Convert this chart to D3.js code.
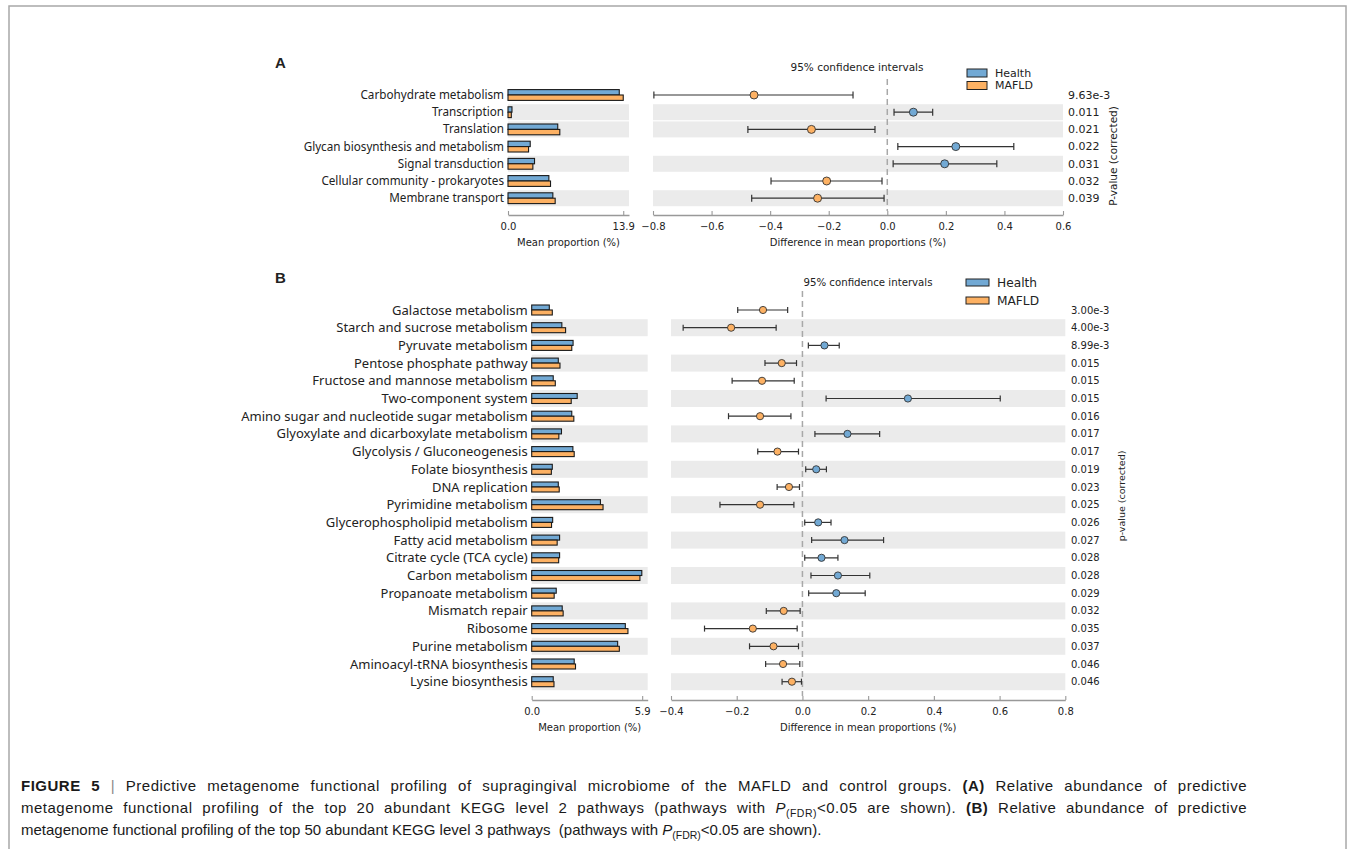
<!DOCTYPE html>
<html>
<head>
<meta charset="utf-8">
<script src="https://cdn.jsdelivr.net/npm/d3@7"></script>
<style>
  body { margin: 0; background: #fff; }
  svg text { font-family: "DejaVu Sans", sans-serif; fill: #222; }
  svg text.lab { font-family: "Noto Sans", "Open Sans", sans-serif; }
  svg text.cap { font-family: "Liberation Sans", Arial, sans-serif; font-size: 15px; fill: #1a1a1a; }
</style>
</head>
<body>
<svg id="fig" width="1355" height="849"></svg>
<script>
console.log('figure 5');

// ---- panel A: KEGG level 2 ----
const pathwaysA = ['Carbohydrate metabolism', 'Transcription', 'Translation',
  'Glycan biosynthesis and metabolism', 'Signal transduction',
  'Cellular community - prokaryotes', 'Membrane transport'];
const healthA = [13.42, 0.48, 6.0, 2.68, 3.2, 4.93, 5.41];
const mafldA  = [13.9, 0.40, 6.25, 2.48, 3.0, 5.13, 5.69];
const diffA = [-0.455, 0.089, -0.259, 0.234, 0.196, -0.207, -0.238];
const lowA  = [-0.797, 0.023, -0.476, 0.036, 0.020, -0.397, -0.463];
const highA = [-0.117, 0.155, -0.042, 0.432, 0.374, -0.018, -0.011];
const pvalA = ['9.63e-3', '0.011', '0.021', '0.022', '0.031', '0.032', '0.039'];
const shadeA = [0, 1, 1, 0, 1, 0, 1];
const meanTicksA = [0, 13.9];
const diffTicksA = [-0.8, -0.6, -0.4, -0.2, 0.0, 0.2, 0.4, 0.6];

// ---- panel B: KEGG level 3 ----
const pathwaysB = ['Galactose metabolism', 'Starch and sucrose metabolism',
  'Pyruvate metabolism', 'Pentose phosphate pathway',
  'Fructose and mannose metabolism', 'Two-component system',
  'Amino sugar and nucleotide sugar metabolism',
  'Glyoxylate and dicarboxylate metabolism', 'Glycolysis / Gluconeogenesis',
  'Folate biosynthesis', 'DNA replication', 'Pyrimidine metabolism',
  'Glycerophospholipid metabolism', 'Fatty acid metabolism',
  'Citrate cycle (TCA cycle)', 'Carbon metabolism', 'Propanoate metabolism',
  'Mismatch repair', 'Ribosome', 'Purine metabolism',
  'Aminoacyl-tRNA biosynthesis', 'Lysine biosynthesis'];
const healthB = [0.94, 1.61, 2.21, 1.42, 1.15, 2.43, 2.14, 1.59, 2.20, 1.10, 1.42,
  3.67, 1.12, 1.49, 1.49, 5.88, 1.31, 1.63, 5.00, 4.59, 2.27, 1.15];
const mafldB = [1.10, 1.81, 2.14, 1.51, 1.26, 2.11, 2.25, 1.45, 2.27, 1.05, 1.47,
  3.81, 1.06, 1.36, 1.44, 5.78, 1.20, 1.68, 5.14, 4.68, 2.34, 1.19];
const diffB = [-0.120, -0.217, 0.067, -0.063, -0.123, 0.321, -0.129, 0.137, -0.076,
  0.042, -0.041, -0.129, 0.048, 0.128, 0.058, 0.108, 0.103, -0.057, -0.151, -0.088,
  -0.059, -0.032];
const lowB = [-0.197, -0.363, 0.018, -0.114, -0.214, 0.072, -0.225, 0.038, -0.136,
  0.010, -0.077, -0.251, 0.007, 0.028, 0.007, 0.026, 0.019, -0.110, -0.298, -0.161,
  -0.112, -0.062];
const highB = [-0.045, -0.080, 0.112, -0.018, -0.025, 0.602, -0.035, 0.235, -0.012,
  0.073, -0.009, -0.026, 0.087, 0.247, 0.108, 0.205, 0.191, -0.007, -0.016, -0.012,
  -0.008, -0.003];
const pvalB = ['3.00e-3', '4.00e-3', '8.99e-3', '0.015', '0.015', '0.015', '0.016',
  '0.017', '0.017', '0.019', '0.023', '0.025', '0.026', '0.027', '0.028', '0.028',
  '0.029', '0.032', '0.035', '0.037', '0.046', '0.046'];
const shadeB = pathwaysB.map((d, i) => i % 2);
const meanTicksB = [0, 5.9];
const diffTicksB = [-0.4, -0.2, 0.0, 0.2, 0.4, 0.6, 0.8];

const groups = ['Health', 'MAFLD'];
const colors = {Health: '#72a9d4', MAFLD: '#fdb163'};

const svg = d3.select('#fig');

// frame round the figure
svg.append('rect')
  .attr('x', 9).attr('y', 6).attr('width', 1337).attr('height', 900)
  .attr('fill', 'none').attr('stroke', '#a8a8a8').attr('stroke-width', 1.5);

function drawPanel(o) {
  const g = svg.append('g');
  const rowY = i => o.y0 + i * o.pitch;

  const xMean = d3.scaleLinear().domain([0, d3.max(o.meanTicks) * 1.05]).range(o.meanRange);
  const xDiff = d3.scaleLinear().domain(d3.extent(o.diffTicks)).range(o.diffRange);

  // letter
  g.append('text').text(o.letter)
    .attr('x', o.letterPos[0]).attr('y', o.letterPos[1])
    .style('font-family', '"Liberation Sans", Arial, sans-serif')
    .style('font-weight', 'bold').style('font-size', '15px');

  // shaded rows
  o.names.forEach((d, i) => {
    if (!o.shade[i]) return;
    [o.meanRange, o.diffRange].forEach(r => {
      g.append('rect')
        .attr('x', r[0]).attr('width', r[1] - r[0])
        .attr('y', rowY(i) - o.bandH / 2).attr('height', o.bandH)
        .attr('fill', '#ebebeb');
    });
  });

  // labels + bars
  o.names.forEach((d, i) => {
    const y = rowY(i);
    g.append('text').attr('class', 'lab')
      .text(d)
      .attr('x', o.meanRange[0] - 4).attr('y', y)
      .attr('dy', '0.35em')
      .attr('text-anchor', 'end')
      .style('font-size', o.labelSize + 'px');

    [o.health[i], o.mafld[i]].forEach((v, k) => {
      g.append('rect')
        .attr('x', xMean(0))
        .attr('y', k === 0 ? y - o.barH : y)
        .attr('width', xMean(v) - xMean(0))
        .attr('height', o.barH)
        .attr('fill', colors[groups[k]])
        .attr('stroke', '#1a1a1a').attr('stroke-width', 1.1);
    });
  });

  // zero line
  g.append('line')
    .attr('x1', xDiff(0)).attr('x2', xDiff(0))
    .attr('y1', o.zeroTop).attr('y2', o.axisY - 4)
    .attr('stroke', '#a8a8a8').attr('stroke-width', 1.5)
    .attr('stroke-dasharray', '6,4');

  // confidence intervals
  o.names.forEach((d, i) => {
    const y = rowY(i);
    const c = o.diff[i] > 0 ? colors.Health : colors.MAFLD;
    const eb = g.append('g').attr('stroke', '#333').attr('stroke-width', 1.2);
    eb.append('line').attr('x1', xDiff(o.low[i])).attr('x2', xDiff(o.high[i]))
      .attr('y1', y).attr('y2', y);
    [o.low[i], o.high[i]].forEach(v => {
      eb.append('line').attr('x1', xDiff(v)).attr('x2', xDiff(v))
        .attr('y1', y - o.capH / 2).attr('y2', y + o.capH / 2);
    });
    g.append('circle')
      .attr('cx', xDiff(o.diff[i])).attr('cy', y).attr('r', o.dotR)
      .attr('fill', c).attr('stroke', '#333').attr('stroke-width', 0.9);

    g.append('text').text(o.pvals[i])
      .attr('x', o.pX).attr('y', y).attr('dy', '0.35em')
      .style('font-size', o.pSize + 'px');
  });

  // axes
  const axMean = d3.axisBottom(xMean).tickValues(o.meanTicks)
    .tickFormat(d3.format('.1f')).tickSizeInner(-4).tickSizeOuter(0).tickPadding(8);
  const axDiff = d3.axisBottom(xDiff).tickValues(o.diffTicks)
    .tickFormat(d3.format('.1f')).tickSizeInner(-4).tickSizeOuter(0).tickPadding(8);
  [axMean, axDiff].forEach(ax => {
    const a = g.append('g').attr('transform', `translate(0,${o.axisY})`).call(ax);
    a.select('.domain').attr('stroke', '#999').attr('stroke-width', 1.3);
    a.selectAll('.tick line').attr('stroke', '#999').attr('stroke-width', 1.1);
    a.selectAll('.tick text').attr('fill', '#222')
      .style('font-family', '"DejaVu Sans", sans-serif').style('font-size', '10px');
  });

  g.append('text').text('Mean proportion (%)')
    .attr('x', d3.mean(o.meanRange)).attr('y', o.axisY + 31)
    .attr('text-anchor', 'middle').style('font-size', '10px');
  g.append('text').text('Difference in mean proportions (%)')
    .attr('x', d3.mean(o.diffRange)).attr('y', o.axisY + 31)
    .attr('text-anchor', 'middle').style('font-size', '10px');

  g.append('text').text('95% confidence intervals')
    .attr('x', o.ciPos[0]).attr('y', o.ciPos[1])
    .attr('text-anchor', 'middle').style('font-size', o.ciSize + 'px');

  // legend
  groups.forEach((k, j) => {
    const ly = o.legY + j * o.legStep;
    g.append('rect')
      .attr('x', o.legX).attr('y', ly - o.legH / 2)
      .attr('width', o.legW).attr('height', o.legH)
      .attr('fill', colors[k]).attr('stroke', '#222').attr('stroke-width', 1);
    g.append('text').text(k)
      .attr('x', o.legX + o.legW + 8).attr('y', ly).attr('dy', '0.35em')
      .style('font-size', o.legSize + 'px');
  });

  // rotated p-value title
  g.append('text').text(o.pTitle)
    .attr('transform', `translate(${o.pTitlePos[0]},${o.pTitlePos[1]}) rotate(-90)`)
    .attr('text-anchor', 'middle').style('font-size', o.pTitleSize + 'px');
}

drawPanel({
  letter: 'A', letterPos: [275, 68],
  names: pathwaysA, health: healthA, mafld: mafldA,
  diff: diffA, low: lowA, high: highA, pvals: pvalA, shade: shadeA,
  meanTicks: meanTicksA, diffTicks: diffTicksA,
  meanRange: [508, 629], diffRange: [653, 1063],
  y0: 95, pitch: 17.2, bandH: 16, barH: 5.4, capH: 7, dotR: 4,
  labelSize: 11.7, axisY: 215, zeroTop: 79,
  pX: 1068, pSize: 11,
  ciPos: [857, 71], ciSize: 10.5,
  legX: 967, legY: 73, legStep: 12.5, legW: 20, legH: 8, legSize: 11,
  pTitle: 'P-value (corrected)', pTitlePos: [1117, 156], pTitleSize: 10.5
});

drawPanel({
  letter: 'B', letterPos: [275, 283],
  names: pathwaysB, health: healthB, mafld: mafldB,
  diff: diffB, low: lowB, high: highB, pvals: pvalB, shade: shadeB,
  meanTicks: meanTicksB, diffTicks: diffTicksB,
  meanRange: [531.7, 647.7], diffRange: [671, 1065.3],
  y0: 310, pitch: 17.7, bandH: 17, barH: 5, capH: 6, dotR: 3.6,
  labelSize: 13, axisY: 700, zeroTop: 291,
  pX: 1071, pSize: 10,
  ciPos: [868, 286], ciSize: 10.2,
  legX: 966, legY: 282.5, legStep: 18, legW: 23, legH: 7, legSize: 12.2,
  pTitle: 'p-value (corrected)', pTitlePos: [1125, 496], pTitleSize: 9.5
});

// caption (first two lines justified, last line natural width)
const capLines = [
  [{t: 'FIGURE 5', b: 1}, {t: ' | ', c: '#888'},
   {t: 'Predictive metagenome functional profiling of supragingival microbiome of the MAFLD and control groups. '},
   {t: '(A)', b: 1}, {t: ' Relative abundance of predictive'}],
  [{t: 'metagenome functional profiling of the top 20 abundant KEGG level 2 pathways (pathways with '},
   {t: 'P', i: 1}, {t: '(FDR)', sub: 1}, {t: '<0.05 are shown). ', up: 1}, {t: '(B)', b: 1},
   {t: ' Relative abundance of predictive'}],
  [{t: 'metagenome functional profiling of the top 50 abundant KEGG level 3 pathways  (pathways with '},
   {t: 'P', i: 1}, {t: '(FDR)', sub: 1}, {t: '<0.05 are shown).', up: 1}]
];
const capWidth = 1226;
capLines.forEach((line, li) => {
  const t = svg.append('text').attr('class', 'cap')
    .attr('x', 21).attr('y', 791 + li * 22)
    .style('white-space', 'pre');
  line.forEach(s => {
    const sp = t.append('tspan').text(s.t);
    if (s.b) sp.style('font-weight', 'bold');
    if (s.i) sp.style('font-style', 'italic');
    if (s.c) sp.attr('fill', s.c);
    if (s.sub) sp.attr('dy', 4).style('font-size', '10.5px');
    if (s.up) sp.attr('dy', -4);
  });
  if (li < capLines.length - 1) {
    // spread the slack partly over letters, the rest over spaces
    t.style('letter-spacing', '0.5px');
    const natural = t.node().getComputedTextLength();
    const spaces = line.map(s => s.t).join('').split(' ').length - 1;
    t.style('word-spacing', Math.max(0, (capWidth - natural) / spaces) + 'px');
  }
});
</script>
</body>
</html>
